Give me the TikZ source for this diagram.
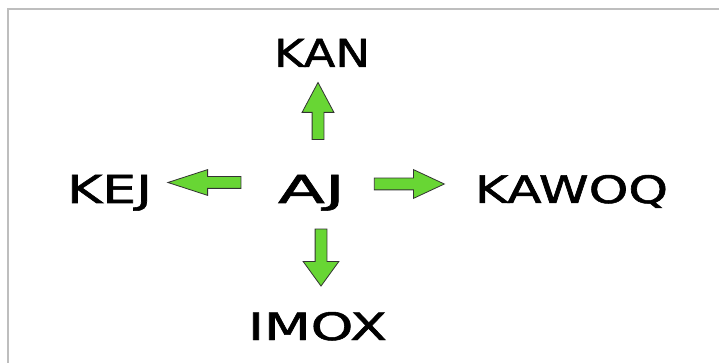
\documentclass[tikz,border=0pt]{standalone}
\usepackage{fontspec}
\setmainfont{DejaVu Sans}
\newfontfamily\lblfont{DejaVu Sans}[FakeBold=1.3]
\usetikzlibrary{shapes.arrows}
\definecolor{arrgreen}{RGB}{104,214,52}
\definecolor{framegray}{RGB}{190,190,190}
\newcommand{\lbltext}[2]{\resizebox{#1}{28pt}{\lblfont #2}}
\begin{document}
\begin{tikzpicture}[x=1pt,y=-1pt,
  lbl/.style={inner sep=0pt, anchor=base, text=black},
  blockarrow/.style={shape=single arrow, draw=black!80, line width=0.8pt,
    fill=arrgreen, inner sep=5.5pt,
    single arrow head extend=#1},
  blockarrow/.default=9pt]
\useasboundingbox (0,0) rectangle (719,363);
\fill[white] (0,0) rectangle (719,363);
\draw[framegray, line width=2pt] (8,363) -- (8,9) -- (719,9);
% labels
\node[lbl] (kan) at (322,67) {\lbltext{96pt}{KAN}};
\node[lbl] (kej) at (109.5,203) {\lbltext{85pt}{KEJ}};
\node[lbl] (aj) at (311.5,203) {\lbltext{67pt}{AJ}};
\node[lbl] (kawoq) at (571.5,203) {\lbltext{193pt}{KAWOQ}};
\node[lbl] (imox) at (317.5,340) {\lbltext{139pt}{IMOX}};
% arrows
\node[blockarrow=10pt, minimum height=57pt, shape border rotate=90, single arrow tip angle=56] (up) at (318,116.5) {};
\node[blockarrow=12pt, minimum height=57pt, shape border rotate=270, single arrow tip angle=72] (down) at (321,253.5) {};
\node[blockarrow=8.5pt, minimum height=70pt, shape border rotate=0, single arrow tip angle=50] (right) at (403,184) {};
\node[blockarrow=7pt, minimum height=73pt, shape border rotate=180, single arrow tip angle=36] (left) at (213.5,182.5) {};
\end{tikzpicture}
\end{document}
